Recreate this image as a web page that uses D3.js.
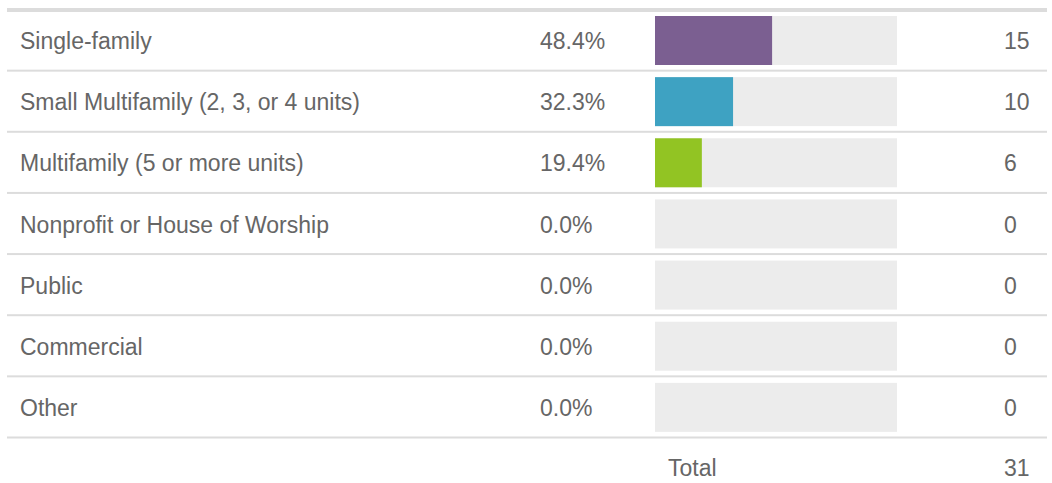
<!DOCTYPE html>
<html>
<head>
<meta charset="utf-8">
<script src="https://cdn.jsdelivr.net/npm/d3@7"></script>
<style>
  body { margin: 0; background: #fff; }
  svg { display: block; font-family: "Liberation Sans", Arial, sans-serif; }
</style>
</head>
<body>
<svg width="1052" height="483"></svg>
<script>
const categories = [
  'Single-family',
  'Small Multifamily (2, 3, or 4 units)',
  'Multifamily (5 or more units)',
  'Nonprofit or House of Worship',
  'Public',
  'Commercial',
  'Other',
];
const counts = [15, 10, 6, 0, 0, 0, 0];
const percents = ['48.4%', '32.3%', '19.4%', '0.0%', '0.0%', '0.0%', '0.0%'];
const colors = ['#7b5f91', '#3ea2c2', '#92c423', '#ececec', '#ececec', '#ececec', '#ececec'];
const total = 31;

const svg = d3.select('svg');

const y = d3.scaleBand()
  .domain(categories)
  .range([10, 438])
  .paddingInner(0);

const x = d3.scaleLinear().domain([0, 1]).range([655, 897]);

const textY = y.bandwidth() / 2 + 0.5;

// top rule
svg.append('rect')
  .attr('x', 7).attr('y', 8).attr('width', 1040).attr('height', 4)
  .attr('fill', '#dcdcdc');

const row = svg.append('g')
  .selectAll('g')
  .data(categories)
  .enter()
  .append('g')
  .attr('transform', (d) => `translate(0,${y(d)})`);

// separators
row.append('rect')
  .attr('x', 7).attr('y', y.bandwidth() - 1.5)
  .attr('width', 1040).attr('height', 2)
  .attr('fill', '#dcdcdc');

row.append('text')
  .attr('x', 20).attr('y', textY)
  .attr('dy', '.35em')
  .attr('font-size', 23)
  .attr('fill', '#666')
  .text((d) => d);

row.append('text')
  .attr('x', 540).attr('y', textY)
  .attr('dy', '.35em')
  .attr('font-size', 23)
  .attr('fill', '#666')
  .text((d, i) => percents[i]);

// bar tracks
row.append('rect')
  .attr('x', x(0)).attr('y', 6)
  .attr('width', x(1) - x(0)).attr('height', 49)
  .attr('fill', '#ececec');

row.append('rect')
  .attr('x', x(0)).attr('y', 6)
  .attr('width', (d, i) => x(counts[i] / total) - x(0)).attr('height', 49)
  .attr('fill', (d, i) => colors[i]);

row.append('text')
  .attr('x', 1004).attr('y', textY)
  .attr('dy', '.35em')
  .attr('font-size', 23)
  .attr('fill', '#666')
  .text((d, i) => counts[i]);

// total row
svg.append('text')
  .attr('x', 668).attr('y', 468).attr('dy', '.35em')
  .attr('font-size', 23).attr('fill', '#666')
  .text('Total');

svg.append('text')
  .attr('x', 1004).attr('y', 468).attr('dy', '.35em')
  .attr('font-size', 23).attr('fill', '#666')
  .text(total);
</script>
</body>
</html>
